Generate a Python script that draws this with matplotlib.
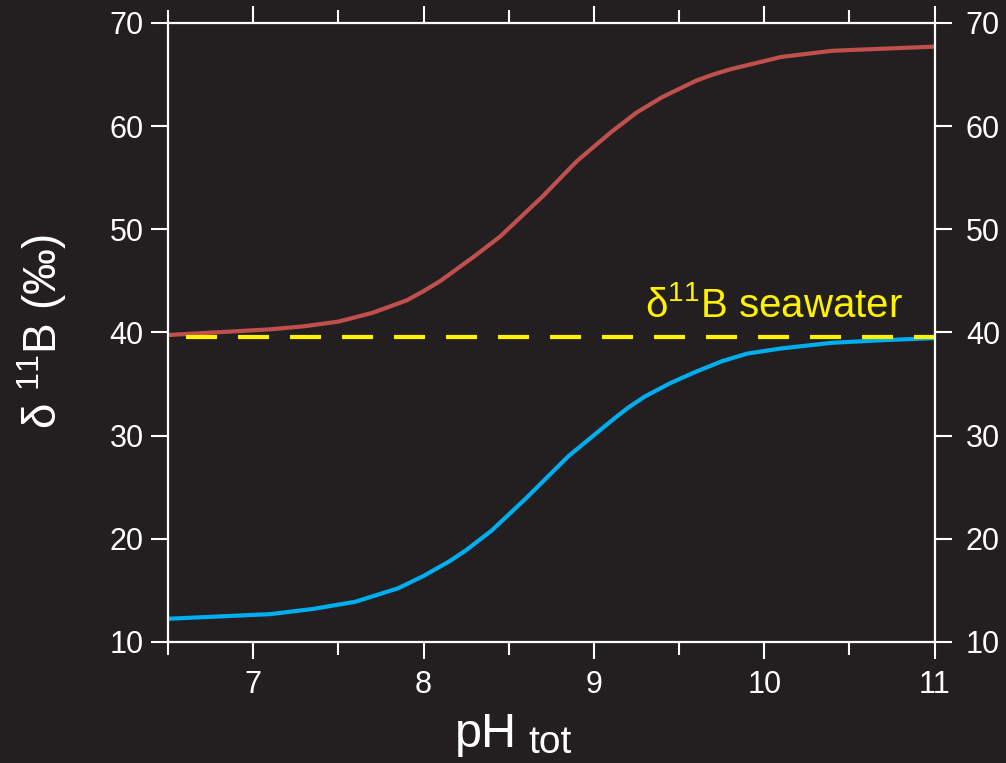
import matplotlib.pyplot as plt
from matplotlib.ticker import MultipleLocator

# values (pH on x, d11B in permil on y)
ph_boric_acid = [6.5, 7.1, 7.3, 7.5, 7.7, 7.9, 8.0, 8.1, 8.2, 8.3, 8.45, 8.7,
                 8.9, 9.1, 9.25, 9.4, 9.6, 9.7, 9.8, 10.1, 10.25, 10.4, 10.7,
                 11.0]
d11b_boric_acid = [39.75, 40.3, 40.6, 41.05, 41.9, 43.1, 44.0, 45.0, 46.2,
                   47.4, 49.3, 53.2, 56.6, 59.4, 61.3, 62.8, 64.4, 65.0, 65.5,
                   66.7, 67.0, 67.3, 67.5, 67.7]
ph_borate = [6.5, 7.1, 7.35, 7.6, 7.85, 8.0, 8.15, 8.25, 8.4, 8.6, 8.85, 9.1,
             9.2, 9.3, 9.45, 9.6, 9.75, 9.9, 10.1, 10.4, 10.7, 11.0]
d11b_borate = [12.25, 12.7, 13.2, 13.9, 15.2, 16.4, 17.8, 18.9, 20.8, 23.9,
               28.0, 31.4, 32.7, 33.8, 35.1, 36.2, 37.2, 37.95, 38.45, 39.0,
               39.25, 39.45]
d11b_seawater = 39.6

BG = "#231f20"
FG = "white"

plt.rcParams["font.family"] = ["Liberation Sans", "DejaVu Sans"]
plt.rcParams["mathtext.fontset"] = "custom"
plt.rcParams["mathtext.rm"] = "Liberation Sans"
plt.rcParams["mathtext.it"] = "Liberation Sans:italic"

fig = plt.figure(figsize=(10.06, 7.63), dpi=100, facecolor=BG)
ax = fig.add_axes([0.167, 0.1586, 0.762, 0.8114], facecolor=BG)

ax.plot(ph_boric_acid, d11b_boric_acid, color="#c0504d", lw=3.0,
        solid_capstyle="butt", solid_joinstyle="round")
ax.plot(ph_borate, d11b_borate, color="#00aeef", lw=3.0,
        solid_capstyle="butt", solid_joinstyle="round")
ax.axhline(d11b_seawater, color="#fff200", lw=3.0,
           linestyle=(8.16, (7.44, 5.04)), dash_capstyle="butt")
ax.text(10.06, 41.5, "δ$^{11}$B seawater", color="#fff200", fontsize=29,
        ha="center", va="baseline")

ax.set_xlim(6.5, 11)
ax.set_ylim(10, 70)

for side in ax.spines.values():
    side.set_color(FG)
    side.set_linewidth(1.6)

ax.xaxis.set_major_locator(MultipleLocator(1))
ax.xaxis.set_minor_locator(MultipleLocator(0.5))
ax.yaxis.set_major_locator(MultipleLocator(10))

ax.tick_params(axis="both", which="major", direction="out", length=12.5,
               width=1.5, color=FG, labelcolor=FG, labelsize=22)
ax.tick_params(axis="x", which="minor", direction="out", length=9.5,
               width=1.5, color=FG, top=True)
ax.tick_params(axis="x", which="major", top=True, pad=8)
ax.tick_params(axis="y", which="major", pad=5)

# right-hand axis repeats the left one, labels sit a bit further out
ax_r = ax.twinx()
ax_r.set_ylim(ax.get_ylim())
ax_r.yaxis.set_major_locator(MultipleLocator(10))
ax_r.tick_params(axis="y", which="major", direction="out", length=12.5,
                 width=1.5, color=FG, labelcolor=FG, labelsize=22, pad=10)
for side in ax_r.spines.values():
    side.set_visible(False)

# axis titles
fig.text(42 / 1006, 1 - 332 / 763, "δ $^{11}$B (‰)", color=FG, fontsize=33,
         rotation=90, ha="center", va="center")
fig.text(455 / 1006, 1 - 747 / 763, "pH", color=FG, fontsize=35,
         ha="left", va="baseline")
fig.text(528 / 1006, 1 - 753 / 763, "tot", color=FG, fontsize=28,
         ha="left", va="baseline")

fig.savefig("out.png", dpi=100, facecolor=BG)
